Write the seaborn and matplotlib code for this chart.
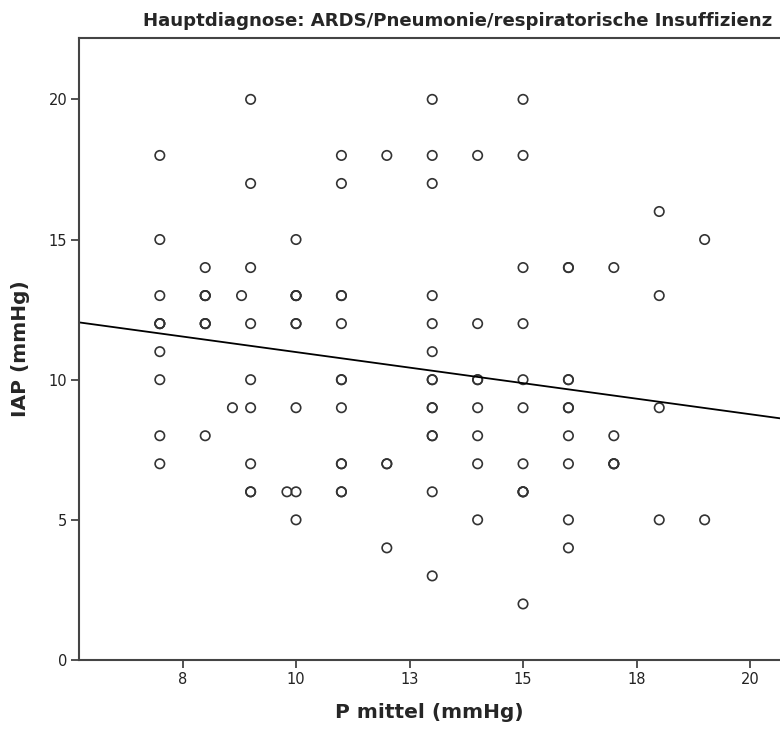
import pandas as pd
import matplotlib.pyplot as plt
import seaborn as sns

# P mittel (mmHg) and IAP (mmHg), one entry per circle
# (darker circles in the reference are counted as several cases)
p_mittel = ([7] * 10 + [8] * 8 + [8.6, 8.8] + [9] * 9 + [9.8] + [10] * 9 +
            [11] * 12 + [12] * 4 + [13] * 14 + [14] * 8 + [15] * 11 +
            [16] * 10 + [17] * 5 + [18] * 4 + [19] * 2)
iap = [18, 15, 13, 12, 12, 12, 11, 10, 8, 7,
       14, 13, 13, 13, 12, 12, 12, 8,
       9, 13,
       20, 17, 14, 12, 10, 9, 7, 6, 6,
       6,
       15, 13, 13, 13, 12, 12, 9, 6, 5,
       18, 17, 13, 13, 12, 10, 10, 9, 7, 7, 6, 6,
       18, 7, 7, 4,
       20, 18, 17, 13, 12, 11, 10, 10, 9, 9, 8, 8, 6, 3,
       18, 12, 10, 10, 9, 8, 7, 5,
       20, 18, 14, 12, 10, 9, 7, 6, 6, 6, 2,
       14, 14, 10, 10, 9, 9, 8, 7, 5, 4,
       14, 8, 7, 7, 7,
       16, 13, 9, 5,
       15, 5]

x_ticks = [7.5, 10, 12.5, 15, 17.5, 20]
x_ticklabels = ["8", "10", "13", "15", "18", "20"]
y_ticks = [0, 5, 10, 15, 20]

df = pd.DataFrame({"P mittel": p_mittel, "IAP": iap})

sns.set_style("white")
plt.rcParams['font.family'] = ['DejaVu Sans']

fig = plt.figure(figsize=(7.8, 7.29), dpi=100)
ax = fig.add_axes([79 / 780, 69 / 729, 1 - 79 / 780, (660 - 37.7) / 729])
ax.set_xlim(5.22, 20.66)
ax.set_ylim(0, 22.2)

sns.scatterplot(data=df, x="P mittel", y="IAP", ax=ax, marker="o", s=46,
                facecolor="none", edgecolor="#333333", linewidth=1.2)
sns.regplot(data=df, x="P mittel", y="IAP", ax=ax, scatter=False, ci=None,
            truncate=False, line_kws={"color": "black", "linewidth": 1.3})

ax.set_xlim(5.22, 20.66)
ax.set_ylim(0, 22.2)
ax.set_xticks(x_ticks)
ax.set_xticklabels(x_ticklabels)
ax.set_yticks(y_ticks)
ax.tick_params(axis="both", direction="out", length=5.5, width=1.3,
               color="#444444", labelsize=10.5, labelcolor="#222222", pad=3,
               left=True, bottom=True)
for side in ["left", "bottom", "top"]:
    ax.spines[side].set_color("#444444")
    ax.spines[side].set_linewidth(1.5)
ax.spines["right"].set_visible(False)

ax.set_xlabel("P mittel (mmHg)", fontsize=14.5, fontweight="bold", labelpad=12)
ax.set_ylabel("IAP (mmHg)", fontsize=14.5, fontweight="bold", labelpad=13)
fig.text(143 / 780, 1 - 25.5 / 729, "Hauptdiagnose: ARDS/Pneumonie/respiratorische Insuffizienz",
         fontsize=13.1, fontweight="bold", ha="left", va="baseline")

fig.savefig("out.png", dpi=100)
